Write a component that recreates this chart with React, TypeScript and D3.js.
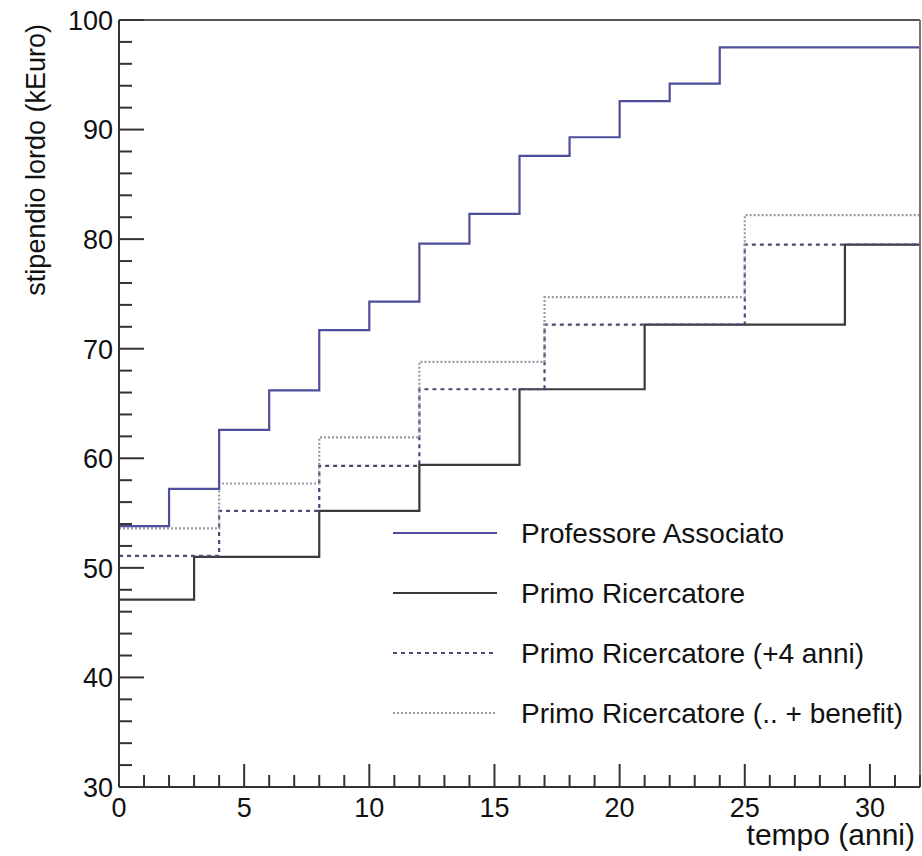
import React from "react";
import * as d3 from "d3";

// ---- Data ----
const xMax = 32;
const profX = [0, 2, 4, 6, 8, 10, 12, 14, 16, 18, 20, 22, 24];
const profY = [53.8, 57.2, 62.6, 66.2, 71.7, 74.3, 79.6, 82.3, 87.6, 89.3, 92.6, 94.2, 97.5];
const primoX = [0, 3, 8, 12, 16, 21, 29];
const primoY = [47.1, 51.0, 55.2, 59.4, 66.3, 72.2, 79.5];
const plus4X = [0, 4, 8, 12, 17, 25];
const plus4Y = [51.1, 55.2, 59.3, 66.3, 72.2, 79.5];
const benefitX = [0, 4, 8, 12, 17, 25];
const benefitY = [53.6, 57.7, 61.9, 68.8, 74.7, 82.2];
const seriesNames = [
  "Professore Associato",
  "Primo Ricercatore",
  "Primo Ricercatore (+4 anni)",
  "Primo Ricercatore (.. + benefit)",
];
const xTickLabels = [0, 5, 10, 15, 20, 25, 30];
const yTickLabels = [30, 40, 50, 60, 70, 80, 90, 100];

const W = 922;
const H = 856;
const FONT = "'Liberation Sans', Arial, Helvetica, sans-serif";

export default function App() {
  const x = d3.scaleLinear().domain([0, xMax]).range([119, 920]);
  const y = d3.scaleLinear().domain([30, 100]).range([787, 20]);

  const line = d3
    .line<[number, number]>()
    .x((d) => x(d[0]))
    .y((d) => y(d[1]))
    .curve(d3.curveStepAfter);

  const pts = (xs: number[], ys: number[]): [number, number][] => {
    const p: [number, number][] = xs.map((v, i) => [v, ys[i]]);
    p.push([xMax, ys[ys.length - 1]]);
    return p;
  };

  const colProf = "#4e4e9c";
  const colPrimo = "#3a3a3a";
  const colPlus4 = "#4a4a78";
  const colBen = "#9a9aa8";

  const series = [
    { d: line(pts(primoX, primoY)), stroke: colPrimo, dash: undefined as string | undefined },
    { d: line(pts(plus4X, plus4Y)), stroke: colPlus4, dash: "4,4" },
    { d: line(pts(benefitX, benefitY)), stroke: colBen, dash: "2,2" },
    { d: line(pts(profX, profY)), stroke: colProf, dash: undefined },
  ];

  const legend = [
    { name: seriesNames[0], stroke: colProf, dash: undefined as string | undefined },
    { name: seriesNames[1], stroke: colPrimo, dash: undefined },
    { name: seriesNames[2], stroke: colPlus4, dash: "4,4" },
    { name: seriesNames[3], stroke: colBen, dash: "2,2" },
  ];
  const legendY = [533, 593, 653, 713];

  const xMinor = d3.range(0, xMax + 0.001, 1);
  const yMinor = d3.range(30, 100.001, 2);

  return (
    <svg
      width={W}
      height={H}
      style={{ position: "absolute", left: 0, top: 0, background: "#fff" }}
      fontFamily={FONT}
    >
      <rect x={0} y={0} width={W} height={H} fill="#fff" />
      {series.map((s, i) => (
        <path
          key={i}
          d={s.d || ""}
          fill="none"
          stroke={s.stroke}
          strokeWidth={2.2}
          strokeDasharray={s.dash}
        />
      ))}

      {/* frame */}
      <line x1={x(0)} x2={x(xMax)} y1={y(100)} y2={y(100)} stroke="#555" strokeWidth={2} />
      <line x1={x(xMax)} x2={x(xMax)} y1={y(100)} y2={y(30)} stroke="#777" strokeWidth={2} />
      <line x1={x(0)} x2={x(0)} y1={y(100)} y2={y(30)} stroke="#333" strokeWidth={2} />
      <line x1={x(0)} x2={x(xMax)} y1={y(30)} y2={y(30)} stroke="#333" strokeWidth={2} />

      {/* y ticks */}
      {yMinor.map((v) => {
        const major = Math.abs(v % 10) < 1e-6;
        return (
          <line
            key={"ym" + v}
            x1={x(0)}
            x2={x(0) + (major ? 25 : 13)}
            y1={y(v)}
            y2={y(v)}
            stroke="#333"
            strokeWidth={2}
          />
        );
      })}
      {yTickLabels.map((v) => (
        <text key={"yl" + v} x={113} y={y(v) + 9.8} textAnchor="end" fontSize={27} fill="#111">
          {v}
        </text>
      ))}

      {/* x ticks */}
      {xMinor.map((v) => {
        const major = Math.abs(v % 5) < 1e-6;
        return (
          <line
            key={"xm" + v}
            x1={x(v)}
            x2={x(v)}
            y1={y(30)}
            y2={y(30) - (major ? 23 : 12)}
            stroke="#333"
            strokeWidth={2}
          />
        );
      })}
      {xTickLabels.map((v) => (
        <text key={"xl" + v} x={x(v)} y={817} textAnchor="middle" fontSize={27} fill="#111">
          {v}
        </text>
      ))}

      {/* axis titles */}
      <text x={915} y={845} textAnchor="end" fontSize={30} fill="#111">
        tempo (anni)
      </text>
      <text transform="translate(45,24) rotate(-90)" textAnchor="end" fontSize={27} fill="#111">
        stipendio lordo (kEuro)
      </text>

      {/* legend */}
      {legend.map((l, i) => (
        <g key={"lg" + i}>
          <line
            x1={393}
            x2={497}
            y1={legendY[i]}
            y2={legendY[i]}
            stroke={l.stroke}
            strokeWidth={2}
            strokeDasharray={l.dash}
          />
          <text x={521} y={legendY[i] + 10} fontSize={28} fill="#111">
            {l.name}
          </text>
        </g>
      ))}
    </svg>
  );
}
